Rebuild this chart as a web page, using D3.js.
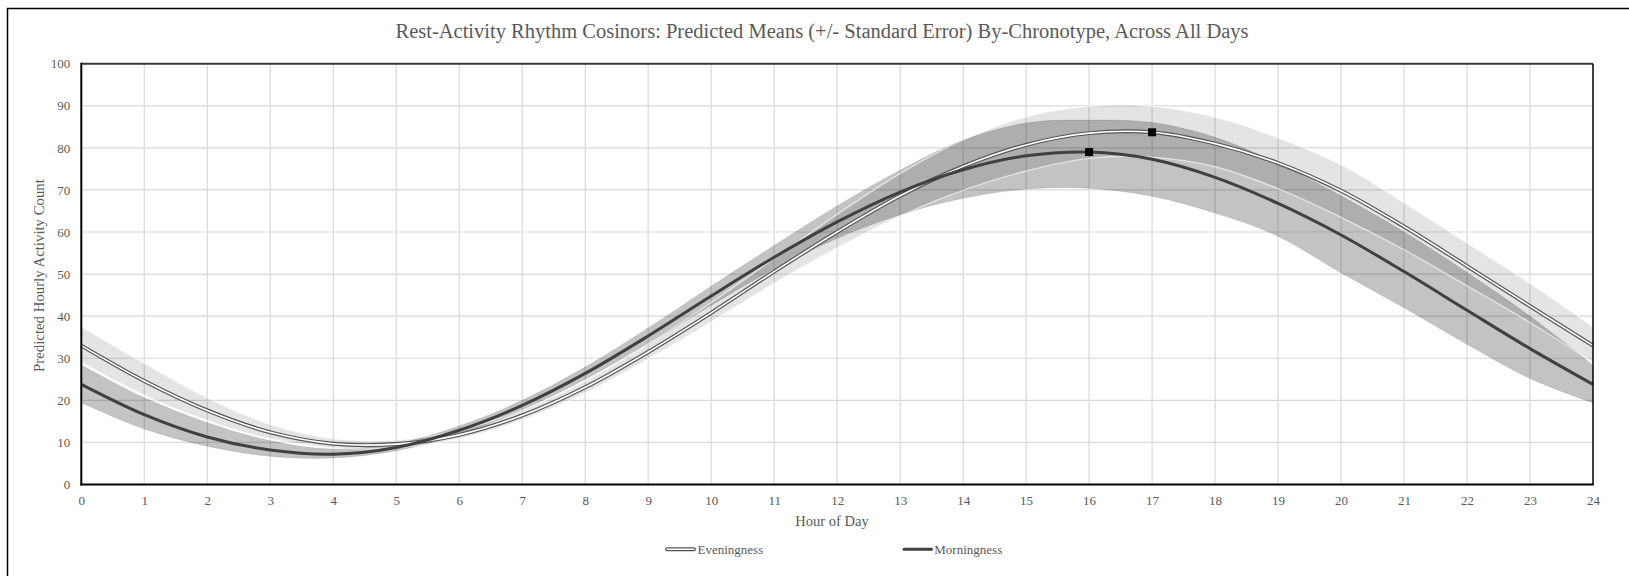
<!DOCTYPE html>
<html>
<head>
<meta charset="utf-8">
<script src="https://cdn.jsdelivr.net/npm/d3@7/dist/d3.min.js"></script>
<style>
  html, body { margin: 0; padding: 0; background: #fff; }
  svg { display: block; }
  text { font-family: "Liberation Serif", "Times New Roman", serif; fill: #595959; }
</style>
</head>
<body>
<svg id="chart" width="1629" height="576"></svg>
<script>
// Hour of day (x) and y tick values
const hours = [0, 1, 2, 3, 4, 5, 6, 7, 8, 9, 10, 11, 12, 13, 14, 15, 16, 17, 18, 19, 20, 21, 22, 23, 24];
const xTicks = [0, 1, 2, 3, 4, 5, 6, 7, 8, 9, 10, 11, 12, 13, 14, 15, 16, 17, 18, 19, 20, 21, 22, 23, 24];
const yTicks = [0, 10, 20, 30, 40, 50, 60, 70, 80, 90, 100];

// Eveningness: predicted mean and +/- standard error bounds
const eveningMean  = [33.0, 24.6, 17.6, 12.4, 9.7, 9.6, 11.8, 16.4, 23.1, 31.5, 40.8, 50.6, 60.0, 68.6, 75.6, 80.7, 83.5, 83.7, 81.0, 76.4, 69.8, 61.3, 51.9, 42.4, 33.0];
const eveningUpper = [37.5, 28.8, 20.6, 14.3, 10.9, 10.6, 12.8, 17.6, 24.6, 33.4, 43.2, 53.7, 64.2, 73.9, 81.9, 87.4, 89.9, 89.9, 87.3, 82.4, 76.0, 67.0, 57.4, 47.8, 37.5];
const eveningLower = [29.0, 21.2, 15.2, 10.8, 8.7, 8.8, 10.9, 15.3, 21.7, 29.8, 38.6, 47.8, 56.2, 63.8, 69.9, 74.5, 77.5, 77.8, 75.5, 70.3, 63.5, 55.8, 47.2, 38.5, 29.0];

// Morningness: predicted mean and +/- standard error bounds
const morningMean  = [23.8, 16.6, 11.3, 8.2, 7.2, 8.8, 12.9, 18.8, 26.4, 35.3, 44.8, 54.0, 62.4, 69.5, 74.8, 78.1, 79.0, 77.3, 73.0, 66.8, 59.3, 50.6, 41.4, 32.3, 23.8];
const morningUpper = [28.4, 20.6, 14.7, 10.4, 8.4, 9.7, 13.9, 20.0, 27.9, 37.2, 47.1, 56.8, 66.2, 74.7, 81.8, 85.9, 86.6, 86.0, 82.5, 76.3, 68.6, 60.0, 50.4, 40.0, 28.4];
const morningLower = [19.4, 13.2, 9.1, 6.7, 6.3, 8.0, 12.0, 17.7, 25.0, 33.5, 42.6, 51.2, 58.5, 64.1, 68.0, 70.2, 70.4, 68.5, 64.5, 59.0, 50.3, 42.0, 33.3, 25.2, 19.4];

// Acrophase markers (hour, value)
const peakHours  = [16, 17];
const peakValues = [79.0, 83.7];

const svg = d3.select("#chart");

// outer chart frame
svg.append("rect")
  .attr("x", 7.5).attr("y", 8.5)
  .attr("width", 1660).attr("height", 620)
  .attr("fill", "none").attr("stroke", "#000").attr("stroke-width", 1.5);

const x = d3.scaleLinear().domain([0, 24]).range([81.3, 1593]);
const y = d3.scaleLinear().domain([0, 100]).range([484.5, 63.7]);

// gridlines
const grid = svg.append("g").attr("stroke", "#d9d9d9").attr("stroke-width", 1.2);
grid.selectAll("line.v").data(xTicks.slice(1, -1)).enter().append("line")
  .attr("x1", d => x(d)).attr("x2", d => x(d))
  .attr("y1", y(0)).attr("y2", y(100));
grid.selectAll("line.h").data(yTicks.slice(1, -1)).enter().append("line")
  .attr("x1", x(0)).attr("x2", x(24))
  .attr("y1", d => y(d)).attr("y2", d => y(d));

const curve = d3.curveCatmullRom.alpha(0.5);
const idx = hours.map((h, i) => i);

function band(upper, lower) {
  return d3.area().curve(curve)
    .x(i => x(hours[i]))
    .y0(i => y(lower[i]))
    .y1(i => y(upper[i]))(idx);
}
function line(vals) {
  return d3.line().curve(curve)
    .x(i => x(hours[i]))
    .y(i => y(vals[i]))(idx);
}

// standard error bands
svg.append("path").attr("d", band(eveningUpper, eveningLower))
  .attr("fill", "rgba(0,0,0,0.105)");
svg.append("path").attr("d", band(morningUpper, morningLower))
  .attr("fill", "rgba(0,0,0,0.235)");

// band edge lines
[eveningUpper, eveningLower].forEach(v => {
  svg.append("path").attr("d", line(v)).attr("fill", "none")
    .attr("stroke", "rgba(255,255,255,0.6)").attr("stroke-width", 1.4);
});
[morningUpper, morningLower].forEach(v => {
  svg.append("path").attr("d", line(v)).attr("fill", "none")
    .attr("stroke", "rgba(0,0,0,0.1)").attr("stroke-width", 1);
});

// eveningness mean: double line
svg.append("path").attr("d", line(eveningMean)).attr("fill", "none")
  .attr("stroke", "#555").attr("stroke-width", 4);
svg.append("path").attr("d", line(eveningMean)).attr("fill", "none")
  .attr("stroke", "#fff").attr("stroke-width", 1.6);

// morningness mean
svg.append("path").attr("d", line(morningMean)).attr("fill", "none")
  .attr("stroke", "#404040").attr("stroke-width", 3);

// acrophase markers
svg.selectAll("rect.peak").data(peakHours).enter().append("rect")
  .attr("x", d => x(d) - 4).attr("y", (d, i) => y(peakValues[i]) - 4)
  .attr("width", 8).attr("height", 8).attr("fill", "#000");

// plot border / axes lines
svg.append("line").attr("x1", x(0)).attr("x2", x(24)).attr("y1", y(100)).attr("y2", y(100))
  .attr("stroke", "#3a3a3a").attr("stroke-width", 2);
svg.append("line").attr("x1", x(24)).attr("x2", x(24)).attr("y1", y(100)).attr("y2", y(0))
  .attr("stroke", "#000").attr("stroke-width", 1.5);
svg.append("line").attr("x1", x(0)).attr("x2", x(0)).attr("y1", y(100) - 1).attr("y2", y(0) + 1)
  .attr("stroke", "#000").attr("stroke-width", 2);
svg.append("line").attr("x1", x(0) - 1).attr("x2", x(24) + 0.75).attr("y1", y(0)).attr("y2", y(0))
  .attr("stroke", "#000").attr("stroke-width", 2);

// axes tick labels
const yAxis = svg.append("g").attr("transform", `translate(${x(0)},0)`)
  .call(d3.axisLeft(y).tickValues(yTicks).tickSize(0).tickPadding(11));
const xAxis = svg.append("g").attr("transform", `translate(0,${y(0)})`)
  .call(d3.axisBottom(x).tickValues(xTicks).tickSize(0).tickPadding(11));
[yAxis, xAxis].forEach(g => {
  g.select(".domain").remove();
  g.selectAll("text").attr("font-family", "Liberation Serif, Times New Roman, serif")
    .attr("font-size", 13).attr("fill", "#595959");
});

// titles
svg.append("text").attr("x", 822).attr("y", 38).attr("text-anchor", "middle")
  .attr("font-size", 20.5)
  .text("Rest-Activity Rhythm Cosinors: Predicted Means (+/- Standard Error) By-Chronotype, Across All Days");
svg.append("text").attr("x", 832).attr("y", 525.5).attr("text-anchor", "middle")
  .attr("font-size", 14.5).text("Hour of Day");
svg.append("text").attr("transform", "translate(44,275.5) rotate(-90)")
  .attr("text-anchor", "middle").attr("font-size", 14.8)
  .text("Predicted Hourly Activity Count");

// legend
const legY = 549.3;
svg.append("line").attr("x1", 667).attr("x2", 694).attr("y1", legY).attr("y2", legY)
  .attr("stroke", "#555").attr("stroke-width", 4).attr("stroke-linecap", "round");
svg.append("line").attr("x1", 667).attr("x2", 694).attr("y1", legY).attr("y2", legY)
  .attr("stroke", "#fff").attr("stroke-width", 1.6).attr("stroke-linecap", "round");
svg.append("text").attr("x", 697.5).attr("y", legY + 4.5).attr("font-size", 13).text("Eveningness");
svg.append("line").attr("x1", 904).attr("x2", 931.5).attr("y1", legY).attr("y2", legY)
  .attr("stroke", "#404040").attr("stroke-width", 3).attr("stroke-linecap", "round");
svg.append("text").attr("x", 934.3).attr("y", legY + 4.5).attr("font-size", 13).text("Morningness");
</script>
</body>
</html>
